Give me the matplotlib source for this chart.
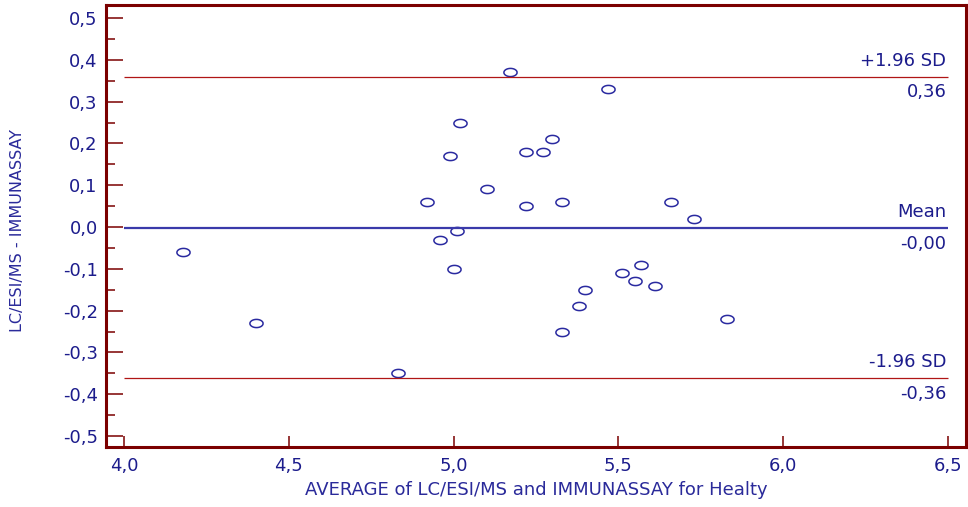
import numpy as np
import matplotlib.pyplot as plt
from matplotlib.path import Path
from matplotlib.ticker import FuncFormatter, MultipleLocator

# Bland-Altman data: mean of both methods vs. difference
avg = [4.18, 4.40, 4.83, 4.92, 4.96, 4.99, 5.00, 5.01, 5.02, 5.10,
       5.17, 5.22, 5.22, 5.27, 5.30, 5.33, 5.33, 5.38, 5.40, 5.47,
       5.51, 5.55, 5.57, 5.61, 5.66, 5.73, 5.83]
diff = [-0.06, -0.23, -0.35, 0.06, -0.03, 0.17, -0.10, -0.01, 0.25, 0.09,
        0.37, 0.18, 0.05, 0.18, 0.21, 0.06, -0.25, -0.19, -0.15, 0.33,
        -0.11, -0.13, -0.09, -0.14, 0.06, 0.02, -0.22]

mean_diff = -0.002
upper_sd = 0.36
lower_sd = -0.36
limit_labels = ["+1.96 SD", "Mean", "-1.96 SD"]
limit_values = ["0,36", "-0,00", "-0,36"]

MAROON = "#7b0000"
NAVY = "#1c1c8c"
plt.rcParams['font.family'] = ['DejaVu Sans']

fig = plt.figure(figsize=(9.68, 5.07), dpi=100)
W, H = 968, 507
ax = fig.add_axes([106 / W, (H - 447) / H, (966 - 106) / W, (447 - 5) / H])

# open ellipse marker
t = np.linspace(0, 2 * np.pi, 60)
ellipse = Path(np.column_stack([np.cos(t), 0.62 * np.sin(t)]))

ax.plot(avg, diff, linestyle='none', marker=ellipse, markersize=9.5,
        markerfacecolor='none', markeredgecolor='#2a2aa0', markeredgewidth=1.1)

x0, x1 = 4.0, 6.5
ax.hlines([upper_sd, lower_sd], x0, x1, color='#b01515', linewidth=0.9)
ax.hlines(mean_diff, x0, x1, color='#3a3aaa', linewidth=1.6)

for yv, lab, val in zip([upper_sd, mean_diff, lower_sd], limit_labels, limit_values):
    ax.annotate(lab, (x1, yv), xytext=(-1, 5), textcoords='offset points',
                ha='right', va='bottom', color=NAVY, fontsize=13)
    ax.annotate(val, (x1, yv), xytext=(-1, -5), textcoords='offset points',
                ha='right', va='top', color=NAVY, fontsize=13)

ax.set_xlim(3.945, 6.555)
ax.set_ylim(-0.526, 0.531)

ax.yaxis.set_minor_locator(MultipleLocator(0.05))
ax.set_xticks(np.arange(4.0, 6.51, 0.5))
ax.set_yticks(np.round(np.arange(-0.5, 0.51, 0.1), 2))

comma = FuncFormatter(lambda v, p: f"{v:.1f}".replace('.', ',').replace('-0,0', '0,0'))
ax.xaxis.set_major_formatter(comma)
ax.yaxis.set_major_formatter(comma)

ax.tick_params(axis='y', which='major', direction='in', length=12.5, width=1.1,
               color=MAROON, labelcolor=NAVY, labelsize=13, pad=6)
ax.tick_params(axis='y', which='minor', direction='in', length=6.5, width=1.1,
               color=MAROON)
ax.tick_params(axis='x', which='major', direction='in', length=8, width=1.1,
               color=MAROON, labelcolor=NAVY, labelsize=13, pad=7)

for side in ['left', 'bottom', 'top', 'right']:
    ax.spines[side].set_color(MAROON)
    ax.spines[side].set_linewidth(2.2)

fig.text(18 / W, 1 - 230 / H, "LC/ESI/MS - IMMUNASSAY", rotation=90,
         ha='center', va='center', color='#2a2a9a', fontsize=11.5)
fig.text(536 / W, 1 - 490 / H, "AVERAGE of LC/ESI/MS and IMMUNASSAY for Healty",
         ha='center', va='center', color='#2a2a9a', fontsize=13)

fig.savefig('out.png', dpi=100)
